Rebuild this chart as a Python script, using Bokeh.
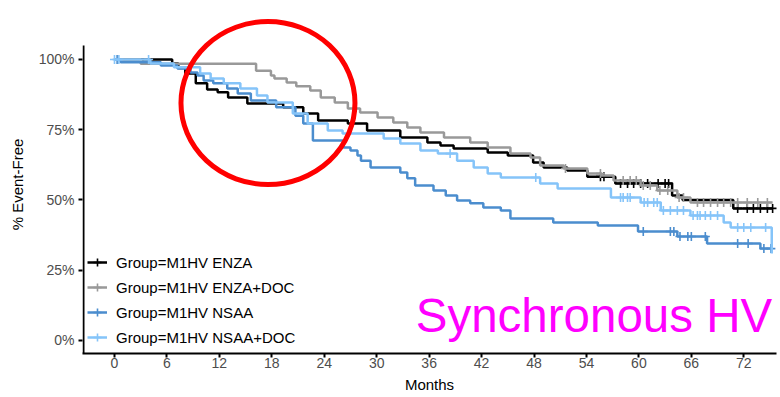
import numpy as np
from bokeh.plotting import figure
from bokeh.models import Range1d, FixedTicker, NumeralTickFormatter, Legend, LegendItem
from bokeh.core.properties import value
from bokeh.embed import file_html
from bokeh.resources import INLINE

# ---------------- data ----------------
group_labels = ["Group=M1HV ENZA", "Group=M1HV ENZA+DOC",
                "Group=M1HV NSAA", "Group=M1HV NSAA+DOC"]
group_colors = ["#000000", "#999999", "#4b8dce", "#85c4f9"]

x_ticks = [0, 6, 12, 18, 24, 30, 36, 42, 48, 54, 60, 66, 72]
y_ticks = [0, 0.25, 0.5, 0.75, 1.0]

# ENZA (black)
enza_t = [6.6, 7.3, 8.1, 9.3, 10.6, 11.8, 13.0, 15.2, 19.3, 21.6, 23.3, 26.7, 28.9,
          32.7, 35.8, 37.3, 38.8, 42.7, 45.0, 47.9, 49.1, 51.8, 54.1, 57.3, 63.8, 65.0, 70.8]
enza_s = [0.986, 0.97, 0.95, 0.915, 0.893, 0.883, 0.865, 0.843, 0.83, 0.808, 0.783, 0.772, 0.747,
          0.722, 0.705, 0.694, 0.683, 0.669, 0.658, 0.633, 0.616, 0.605, 0.583, 0.559, 0.516, 0.50, 0.47]
enza_end = 75.3
enza_cens = [55.6, 56.0, 57.9, 58.7, 59.4, 60.2, 61.0, 62.2, 63.0, 63.4,
             71.3, 72.4, 73.1, 73.9, 74.7, 75.3]

# ENZA+DOC (grey)
enzadoc_t = [3.0, 16.2, 17.9, 18.3, 19.7, 20.8, 22.4, 23.6, 25.2, 26.7, 28.1, 30.1, 31.9,
             33.5, 35.0, 37.7, 40.7, 42.7, 45.3, 47.6, 48.7, 51.4, 54.1, 55.7, 57.1, 60.2,
             62.1, 64.4, 65.9]
enzadoc_s = [0.985, 0.96, 0.943, 0.932, 0.918, 0.905, 0.89, 0.865, 0.847, 0.826, 0.811, 0.794, 0.776,
             0.758, 0.74, 0.722, 0.705, 0.687, 0.665, 0.651, 0.623, 0.612, 0.594, 0.587, 0.569, 0.552,
             0.534, 0.509, 0.491]
enzadoc_end = 75.3
enzadoc_cens = [51.6, 55.6, 58.2, 59.0, 59.7, 60.5, 61.3, 62.4, 63.3, 64.6, 65.1, 66.7, 67.4,
                68.2, 69.0, 69.7, 70.5, 71.3, 72.4, 73.6, 74.7]

# NSAA (mid blue)
nsaa_t = [0.7, 5.3, 7.2, 8.7, 9.5, 10.2, 11.3, 12.9, 14.1, 15.6, 18.5, 20.7, 21.6, 22.7,
          26.2, 27.0, 27.8, 28.2, 29.3, 32.7, 33.5, 34.4, 36.5, 37.9, 39.2, 40.7, 42.2,
          44.2, 45.3, 50.2, 55.3, 59.9, 64.4, 67.8, 73.9]
nsaa_s = [0.99, 0.979, 0.968, 0.954, 0.943, 0.925, 0.915, 0.897, 0.879, 0.854, 0.83, 0.80, 0.772, 0.712,
          0.687, 0.676, 0.658, 0.64, 0.616, 0.598, 0.577, 0.552, 0.534, 0.516, 0.498, 0.488, 0.473,
          0.463, 0.434, 0.42, 0.409, 0.388, 0.37, 0.345, 0.327]
nsaa_end = 75.3
nsaa_cens = [0.3, 60.5, 63.6, 64.0, 64.7, 65.6, 66.0, 67.6, 71.3, 72.5, 74.3, 75.1]

# NSAA+DOC (light blue)
nsaadoc_t = [4.1, 6.8, 9.8, 11.0, 12.5, 14.4, 16.3, 17.5, 20.4, 22.1, 24.4, 26.1, 30.8,
             32.7, 35.0, 37.0, 39.2, 41.1, 42.7, 44.2, 48.7, 50.7, 56.8, 60.2, 62.5, 65.9,
             69.7, 70.5, 75.2]
nsaadoc_s = [0.986, 0.972, 0.95, 0.932, 0.915, 0.897, 0.872, 0.847, 0.808, 0.772, 0.747, 0.737, 0.719,
             0.701, 0.676, 0.665, 0.64, 0.616, 0.594, 0.58, 0.559, 0.541, 0.509, 0.491, 0.463, 0.445,
             0.42, 0.402, 0.31]
nsaadoc_end = 75.2
nsaadoc_cens = [0.0, 0.5, 3.9, 38.4, 48.2, 57.9, 58.2, 58.7, 59.0, 60.6, 61.0, 61.7, 62.1,
                62.8, 63.6, 64.4, 65.1, 66.2, 66.7, 67.0, 67.6, 68.2, 69.0, 71.3, 72.0, 72.8, 74.5]

series = [
    (enza_t, enza_s, enza_end, enza_cens),
    (enzadoc_t, enzadoc_s, enzadoc_end, enzadoc_cens),
    (nsaa_t, nsaa_s, nsaa_end, nsaa_cens),
    (nsaadoc_t, nsaadoc_s, nsaadoc_end, nsaadoc_cens),
]

# ---------------- figure ----------------
W, H = 780, 397
BL, BR, BT, BB = 82, 4, 15, 44
X0 = -3.661
PXM = 8.74                      # pixels per month
PXY = 281.0                     # pixels per unit of survival
X1 = X0 + (W - BL - BR) / PXM
Y0 = -0.0463
Y1 = Y0 + (H - BT - BB) / PXY
FONT = "Liberation Sans"

p = figure(width=W, height=H, output_backend="svg", toolbar_location=None,
           x_range=Range1d(X0, X1), y_range=Range1d(Y0, Y1),
           min_border_left=BL, min_border_right=BR, min_border_top=BT, min_border_bottom=BB)
p.outline_line_color = None
p.xgrid.visible = False
p.ygrid.visible = False
p.background_fill_color = "white"

for ax in (p.xaxis[0], p.yaxis[0]):
    ax.major_tick_out = 4
    ax.major_tick_in = 0
    ax.minor_tick_out = 0
    ax.minor_tick_in = 0
    ax.major_tick_line_width = 2
    ax.major_tick_line_color = "black"
    ax.major_label_text_font = FONT
    ax.major_label_text_font_size = "14px"
    ax.major_label_text_color = "#4d4d4d"
    ax.axis_label_text_font = FONT
    ax.axis_label_text_font_size = "15px"
    ax.axis_label_text_font_style = "normal"
    ax.axis_label_text_color = "black"

p.xaxis.ticker = FixedTicker(ticks=x_ticks)
p.xaxis.axis_label = "Months"
p.xaxis.axis_line_width = 2
p.xaxis.axis_line_color = "black"
p.xaxis.major_label_standoff = 0
p.xaxis.axis_label_standoff = 5

p.yaxis.ticker = FixedTicker(ticks=y_ticks)
p.yaxis.formatter = NumeralTickFormatter(format="0%")
p.yaxis.axis_label = "% Event-Free"
p.yaxis.axis_line_color = None
p.yaxis.major_label_standoff = 4
p.yaxis.axis_label_standoff = 10

# manual y axis line (frame extends above so the circle is not clipped)
p.segment(x0=[X0 + 1.0 / PXM], y0=[Y0], x1=[X0 + 1.0 / PXM], y1=[1.05],
          line_color="black", line_width=2)

items = []
for (t, s, end, cens), col, lab in zip(series, group_colors, group_labels):
    xs = [0.0] + list(t) + [end]
    ys = [1.0] + list(s) + [s[-1]]
    lr = p.step(xs, ys, mode="after", line_color=col, line_width=2.5)
    tt = np.array([0.0] + list(t))
    ss = np.array([1.0] + list(s))
    idx = np.searchsorted(tt, np.array(cens), side="right") - 1
    cy = ss[idx]
    sr = p.scatter(cens, cy, marker="cross", size=9, line_width=1.6, line_color=col)
    items.append(LegendItem(label=lab, renderers=[lr, sr]))

legend = Legend(items=items, location=(5, 6), orientation="vertical",
                background_fill_alpha=0, border_line_color=None, padding=0, spacing=5,
                glyph_width=20, glyph_height=20, label_height=20, label_standoff=9,
                label_text_font=FONT, label_text_font_size="15px", label_text_color="black",
                margin=0)
p.add_layout(legend)

# red circle highlight
p.ellipse(x=[17.56], y=[0.845], width=[174 / PXM], height=[163 / PXY],
          fill_color=None, line_color="#ff0000", line_width=5)

# magenta caption
p.text(x=[75.25], y=[0.088], text=["Synchronous HV"], text_align="right",
       text_baseline="alphabetic", text_font=value(FONT), text_font_size=value("47.5px"),
       text_color="#ff00ff")

open("out.html", "w").write(file_html(p, INLINE))
